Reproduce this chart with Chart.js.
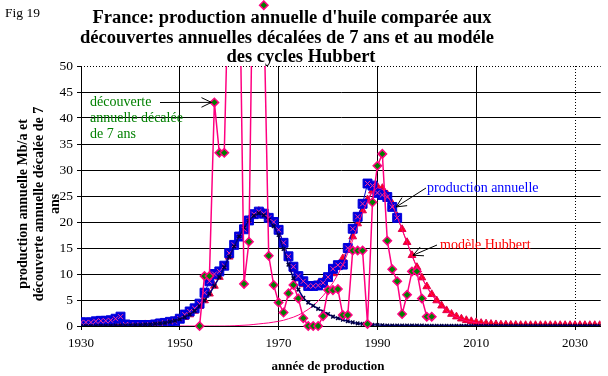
<!DOCTYPE html>
<html><head><meta charset="utf-8">
<script src="https://cdn.jsdelivr.net/npm/chart.js@4/dist/chart.umd.min.js"></script>
<style>html,body{margin:0;padding:0;background:#fff}</style>
</head><body>
<canvas id="c" width="608" height="376"></canvas>
<script>
// ---- DATA ----
const years = [1930,1931,1932,1933,1934,1935,1936,1937,1938,1939,
1940,1941,1942,1943,1944,1945,1946,1947,1948,1949,
1950,1951,1952,1953,1954,1955,1956,1957,1958,1959,
1960,1961,1962,1963,1964,1965,1966,1967,1968,1969,
1970,1971,1972,1973,1974,1975,1976,1977,1978,1979,
1980,1981,1982,1983,1984,1985,1986,1987,1988,1989,
1990,1991,1992,1993,1994,1995,1996,1997,1998,1999,
2000,2001,2002,2003,2004,2005,2006,2007,2008,2009,
2010,2011,2012,2013,2014,2015,2016,2017,2018,2019,
2020,2021,2022,2023,2024,2025,2026,2027,2028,2029,
2030,2031,2032,2033,2034,2035];

// production annuelle, 1930-1994 (Mb/a)
const production = [0.7,0.7,0.7,0.9,1.0,1.0,1.1,1.4,1.8,0.3,
0.2,0.2,0.2,0.2,0.2,0.3,0.5,0.6,0.8,0.9,
1.4,2.2,2.8,3.4,4.3,6.4,8.6,10.0,10.5,11.6,
14.0,15.6,17.2,18.6,20.3,21.5,22.0,21.6,20.8,20.0,
18.5,16.0,13.4,11.4,9.6,8.6,7.7,7.7,7.8,8.3,
9.4,11.0,11.7,11.8,15.0,18.7,21.0,23.5,27.4,27.0,
25.6,25.2,24.8,22.9,20.8];

// découverte annuelle décalée de 7 ans, 1954-2001
const discoveryStart = 1954;
const discovery = [0,9.6,9.6,43,33.3,33.3,
72,68,75,8.1,16.2,85,70,61.7,13.5,7.9,
4.5,2.6,6.3,7.9,5.3,1.5,0,0,0,1.9,
6.9,6.9,7.1,2.1,2.1,14.5,14.5,14.5,0.4,23.8,
30.8,33.1,16.4,10.9,8.6,2.3,6.0,10.5,10.5,5.3,
1.8,1.8];

// modèle Hubbert (somme des deux cycles), 1930-2035
const hubbertModel = [0,0,0,0,0.05,0.05,0.05,0.1,0.1,0.1,
0.15,0.2,0.2,0.3,0.3,0.4,0.5,0.6,0.8,1.0,
1.3,1.7,2.2,2.9,3.8,4.9,6.2,7.7,9.4,11.3,
13.3,15.4,17.3,19.1,20.5,21.5,22.1,21.8,21.0,20.0,
18.4,15.9,13.2,10.9,9.1,8.0,7.7,7.8,8.1,8.6,
9.3,10.1,11.4,13.0,14.9,17.2,19.7,22.2,24.3,26.0,
26.8,26.5,25.3,23.5,21.1,18.6,16.1,13.6,11.3,9.3,
7.6,6.1,4.9,3.9,3.0,2.3,1.8,1.4,1.1,0.9,
0.7,0.55,0.45,0.37,0.3,0.25,0.22,0.2,0.18,0.16,
0.15,0.15,0.15,0.15,0.15,0.15,0.15,0.15,0.15,0.15,
0.15,0.15,0.15,0.15,0.15,0.15];

// premier cycle Hubbert, 1930-2035
const cycle1 = [0,0,0,0,0.05,0.05,0.05,0.1,0.1,0.1,
0.15,0.2,0.2,0.3,0.3,0.4,0.5,0.6,0.8,1.0,
1.3,1.7,2.2,2.9,3.8,4.9,6.2,7.7,9.4,11.3,
13.3,15.3,17.2,18.9,20.3,21.2,21.7,21.3,20.4,19.2,
17.5,14.8,11.8,9.2,7.0,5.4,4.5,3.9,3.3,2.8,
2.3,1.8,1.5,1.2,0.9,0.7,0.5,0.4,0.3,0.25,
0.2,0.15,0.1,0.1,0.1,0.1,0.1,0.1,0.1,0.1,
0.05,0.05,0.05,0.05,0.05,0.05,0.05,0.05,0.05,0.05,
0.05,0.05,0.05,0.05,0.05,0.05,0.05,0.05,0.05,0.05,
0.05,0.05,0.05,0.05,0.05,0.05,0.05,0.05,0.05,0.05,
0.05,0.05,0.05,0.05,0.05,0.05];

// second cycle Hubbert, 1950-2035
const cycle2Start = 1950;
const cycle2 = [0,0,0,0,0,0,0,0,0,0,
0.02,0.05,0.1,0.15,0.2,0.3,0.4,0.5,0.6,0.75,
0.9,1.1,1.4,1.7,2.1,2.6,3.2,3.9,4.8,5.8,
7.0,8.3,9.9,11.8,14.0,16.5,19.2,21.8,24.0,25.8,
26.6,26.3,25.2,23.4,21.0,18.5,16.0,13.5,11.2,9.2,
7.5,6.0,4.8,3.8,2.9,2.2,1.7,1.3,1.0,0.8,
0.6,0.45,0.35,0.27,0.2,0.15,0.12,0.1,0.08,0.06,
0.05,0.05,0.05,0.05,0.05,0.05,0.05,0.05,0.05,0.05,
0.05,0.05,0.05,0.05,0.05,0.05];

const xTicks = [1930,1950,1970,1990,2010,2030];
const yTicks = [0,5,10,15,20,25,30,35,40,45,50];

const titleLines = ["France: production annuelle d'huile comparée aux",
  "découvertes annuelles décalées de 7 ans et au modéle",
  "des cycles Hubbert"];
const yTitleLines = ["production annuelle Mb/a et", "découverte annuelle décalée de 7", "ans"];
const xTitle = "année de production";

// ---- build points ----
function pts(vals, start){ const i0 = years.indexOf(start); return vals.map((v,i)=>({x:years[i0+i], y:v})); }
const prodPts = pts(production, 1930);
const discPts = pts(discovery, discoveryStart);
const modelPts = pts(hubbertModel, 1930);
const c1Pts = pts(cycle1, 1930);
const c2Pts = pts(cycle2, cycle2Start);

const SERIF = "'Liberation Serif', 'Times New Roman', serif";
const PINK = '#ff0080';

function arrow(ctx, x1, y1, x2, y2){
  ctx.beginPath(); ctx.moveTo(x1,y1); ctx.lineTo(x2,y2); ctx.stroke();
  const a = Math.atan2(y2-y1, x2-x1), L = 11, w = 0.45;
  ctx.beginPath();
  ctx.moveTo(x2 - L*Math.cos(a-w), y2 - L*Math.sin(a-w)); ctx.lineTo(x2,y2);
  ctx.lineTo(x2 - L*Math.cos(a+w), y2 - L*Math.sin(a+w));
  ctx.stroke();
}

const decor = {
  id: 'decor',
  beforeDatasetsDraw(chart){
    const {ctx, chartArea:ca, scales:{x, y}} = chart;
    ctx.save();
    ctx.strokeStyle = '#000'; ctx.lineWidth = 1; ctx.setLineDash([1,2]);
    const yt = Math.round(y.getPixelForValue(50)) + 0.5;
    ctx.beginPath(); ctx.moveTo(ca.left, yt); ctx.lineTo(ca.right, yt); ctx.stroke();
    const xd = Math.round(x.getPixelForValue(2030)) + 0.5;
    ctx.beginPath(); ctx.moveTo(xd, ca.top); ctx.lineTo(xd, ca.bottom); ctx.stroke();
    ctx.restore();
  },
  afterDatasetsDraw(chart){
    // discovery markers lying above the plot area (drawn by the library's own point elements)
    const {ctx, chartArea:ca} = chart;
    const full = {left:0, top:0, right:chart.width, bottom:chart.height};
    chart.getDatasetMeta(0).data.forEach(p => { if (p.y < ca.top) p.draw(ctx, full); });
  },
  afterDraw(chart){
    const {ctx, chartArea:ca, scales:{x, y}} = chart;
    ctx.save();
    ctx.fillStyle = '#000';
    ctx.textBaseline = 'alphabetic';
    ctx.font = "13.5px " + SERIF; ctx.textAlign = 'left';
    ctx.fillText('Fig 19', 5, 17);
    ctx.font = "bold 18.5px " + SERIF; ctx.textAlign = 'center';
    ctx.fillText(titleLines[0], 292, 23);
    ctx.fillText(titleLines[1], 287, 43);
    ctx.fillText(titleLines[2], 301, 62);
    // y title
    ctx.save();
    ctx.translate(0, 204); ctx.rotate(-Math.PI/2);
    ctx.font = "bold 14px " + SERIF; ctx.textAlign = 'center';
    ctx.fillText(yTitleLines[0], 0, 27);
    ctx.fillText(yTitleLines[1], 0, 43);
    ctx.fillText(yTitleLines[2], 0, 59);
    ctx.restore();
    // x title
    ctx.font = "bold 13px " + SERIF; ctx.textAlign = 'center';
    ctx.fillText(xTitle, 328, 370);
    // annotations
    ctx.textAlign = 'left';
    ctx.font = "14px " + SERIF;
    ctx.fillStyle = '#008000';
    ctx.fillText('découverte', 90, 106);
    ctx.fillText('annuelle décalée', 90, 122);
    ctx.fillText('de 7 ans', 90, 138);
    ctx.fillStyle = '#0000ff';
    ctx.fillText('production annuelle', 427, 192);
    ctx.fillStyle = '#ff0000';
    ctx.fillText('modèle Hubbert', 440, 249);
    ctx.strokeStyle = '#000'; ctx.lineWidth = 1;
    arrow(ctx, 160, 102.5, x.getPixelForValue(1957) - 3, y.getPixelForValue(43));
    arrow(ctx, 426, 188, x.getPixelForValue(1993) + 4, y.getPixelForValue(22.9));
    arrow(ctx, 437, 245, x.getPixelForValue(1997) + 1, y.getPixelForValue(13.6));
    ctx.restore();
  }
};

new Chart(document.getElementById('c'), {
  type: 'line',
  data: { datasets: [
    { label:'découverte (points)', data: discPts, showLine:false, pointStyle:'rectRot', pointRadius:4.2,
      pointBackgroundColor:'#008000', pointBorderColor:PINK, pointBorderWidth:1.5, clip:false, order:0 },
    { label:'découverte', data: discPts, borderColor:PINK, borderWidth:1.5, pointRadius:0, order:1 },
    { label:'cycle 1', data: c1Pts, borderColor:'#000080', borderWidth:1.5, pointStyle:'crossRot', pointRadius:2.5,
      pointBorderColor:'#000040', pointBackgroundColor:'#0000cc', pointBorderWidth:1.5, order:2 },
    { label:'cycle 2', data: c2Pts, borderColor:PINK, borderWidth:1, pointRadius:0, order:2.5 },
    { label:'production X', data: prodPts, showLine:false, pointStyle:'crossRot', pointRadius:3.5,
      pointBorderColor:'#ff3399', pointBorderWidth:1, order:3 },
    { label:'production annuelle', data: prodPts, borderColor:'#0000cc', borderWidth:1, pointStyle:'rect', pointRadius:6.3,
      pointBackgroundColor:'#0000dd', pointBorderColor:'#0000dd', pointBorderWidth:1, order:4 },
    { label:'modèle Hubbert', data: modelPts, borderColor:'#ff0050', borderWidth:1, pointStyle:'triangle', pointRadius:4.5,
      pointBackgroundColor:'#ff0020', pointBorderColor:'#e00050', pointBorderWidth:1, order:5 }
  ]},
  options: {
    responsive:false, animation:false, devicePixelRatio:1,
    layout:{ padding:{ left:0, top:66, right:1, bottom:0 } },
    plugins:{ legend:{display:false}, tooltip:{enabled:false}, title:{display:false} },
    scales:{
      x:{ type:'linear', min:1930, max:2035.2,
        afterBuildTicks(s){ s.ticks = xTicks.map(v=>({value:v})); },
        afterFit(s){ s.height = 50; },
        ticks:{ color:'#000', font:{family:SERIF, size:13}, padding:6, maxRotation:0, callback:v=>String(v) },
        grid:{ color:(c)=> (c.tick && (c.tick.value===2030)) ? 'rgba(0,0,0,0)' : '#000', lineWidth:1, tickLength:4, tickColor:'#000' },
        border:{ color:'#000', width:1 }
      },
      y:{ min:0, max:50,
        afterBuildTicks(s){ s.ticks = yTicks.map(v=>({value:v})); },
        afterFit(s){ s.width = 81; },
        ticks:{ color:'#000', font:{family:SERIF, size:13.5}, padding:4 },
        grid:{ color:(c)=> (c.tick && c.tick.value===50) ? 'rgba(0,0,0,0)' : '#000', lineWidth:1, tickLength:4, tickColor:'#000' },
        border:{ color:'#000', width:1 }
      }
    }
  },
  plugins:[decor]
});
</script>
</body></html>
